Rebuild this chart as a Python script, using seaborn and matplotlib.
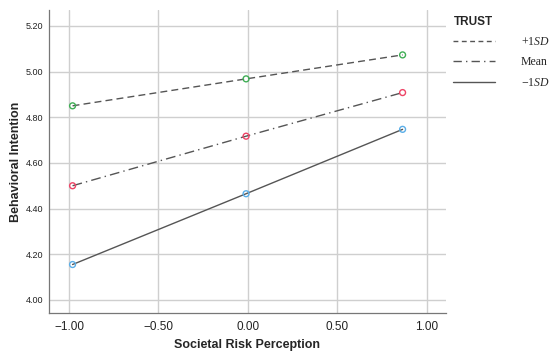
import matplotlib
matplotlib.use("Agg")
import matplotlib.pyplot as plt
import seaborn as sns
import pandas as pd
from matplotlib.lines import Line2D

x_vals = [-0.98, -0.01, 0.865]
plus_sd = [4.85, 4.968, 5.073]
mean_vals = [4.50, 4.717, 4.908]
minus_sd = [4.155, 4.465, 4.747]
groups = ["+1SD", "Mean", "-1SD"]
legend_labels = [r"+1$\mathit{SD}$", "Mean", r"$-$1$\mathit{SD}$"]
marker_colors = ["#3fae55", "#ee4466", "#5aaee8"]
x_ticks = [-1.0, -0.5, 0.0, 0.5, 1.0]
y_ticks = [4.0, 4.2, 4.4, 4.6, 4.8, 5.0, 5.2]

df = pd.DataFrame({
    "x": x_vals * 3,
    "y": plus_sd + mean_vals + minus_sd,
    "TRUST": [g for g in groups for _ in x_vals],
})

sns.set_style("white")
plt.rcParams["font.family"] = ["Liberation Sans", "DejaVu Sans"]
plt.rcParams["mathtext.fontset"] = "custom"
plt.rcParams["mathtext.rm"] = "Liberation Serif"
plt.rcParams["mathtext.it"] = "Liberation Serif:italic"

fig = plt.figure(figsize=(5.5, 3.54), dpi=100)
ax = fig.add_axes([0.089, 0.116, 0.722, 0.856])

dash_map = {"+1SD": (5, 3), "Mean": (7, 3, 1, 3), "-1SD": ""}
sns.lineplot(data=df, x="x", y="y", hue="TRUST", style="TRUST",
             palette={g: "#555555" for g in groups}, dashes=dash_map,
             linewidth=1.0, legend=False, ax=ax, sort=True)

for g, c in zip(groups, marker_colors):
    sub = df[df["TRUST"] == g]
    sns.scatterplot(data=sub, x="x", y="y", marker="o", s=18,
                    facecolor="none", edgecolor=c, linewidth=1.0,
                    legend=False, ax=ax, zorder=5)

ax.set_xlim(-1.112, 1.108)
ax.set_ylim(3.943, 5.27)
ax.set_xticks(x_ticks)
ax.set_yticks(y_ticks)
ax.set_xticklabels([f"{v:.2f}".replace("-", "\u2212") for v in x_ticks], fontsize=8.5)
ax.set_yticklabels([f"{v:.2f}" for v in y_ticks], fontsize=6.5)
ax.tick_params(axis="x", length=0, pad=6, colors="#222222")
ax.tick_params(axis="y", length=0, pad=4, colors="#222222")
ax.grid(True, color="#cfcfcf", linewidth=1.0)
ax.set_axisbelow(True)
for s in ["top", "right"]:
    ax.spines[s].set_visible(False)
for s in ["left", "bottom"]:
    ax.spines[s].set_color("#777777")
    ax.spines[s].set_linewidth(0.9)

ax.set_xlabel("Societal Risk Perception", fontsize=9, fontweight="bold", labelpad=4)
ax.set_ylabel("Behavioral Intention", fontsize=9, fontweight="bold", labelpad=3)

handles = [
    Line2D([], [], color="#555555", lw=1.0, dashes=(3.5, 2.5)),
    Line2D([], [], color="#555555", lw=1.0, dashes=(6, 3, 1, 3)),
    Line2D([], [], color="#555555", lw=1.0),
]
leg = fig.legend(handles, legend_labels, title="TRUST", loc="upper left",
                 bbox_to_anchor=(0.805, 0.985), frameon=False,
                 prop={"family": "Liberation Serif", "size": 8.5},
                 handlelength=3.5, handletextpad=2.2, labelspacing=0.7)
leg.get_title().set_fontweight("bold")
leg.get_title().set_fontsize(8.5)
leg.get_title().set_family("Liberation Sans")
leg._legend_box.align = "left"

fig.savefig("out.png", dpi=100)
